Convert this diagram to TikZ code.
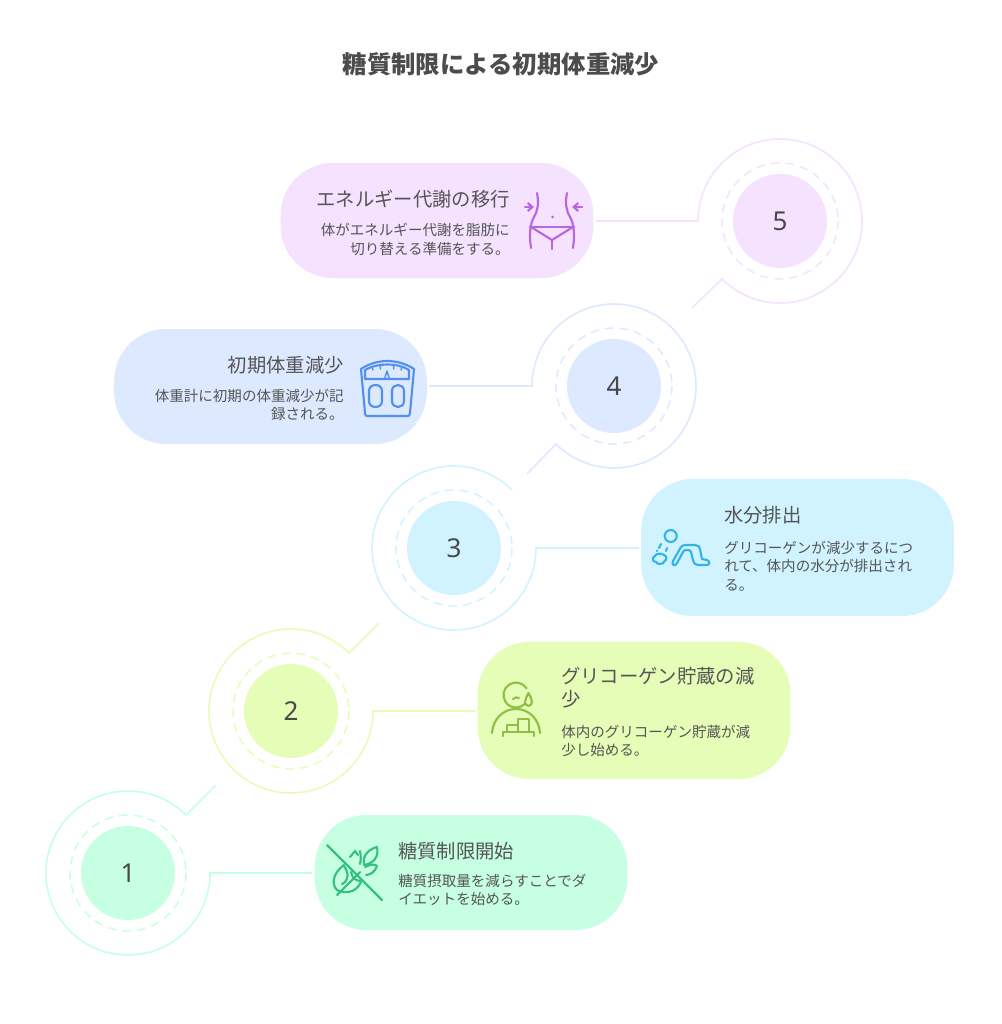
\documentclass[tikz,border=0pt]{standalone}
\usepackage{fontspec}
\setmainfont{Noto Sans CJK JP}
\newfontfamily\numfont{Noto Sans}
\usetikzlibrary{arrows.meta}
\definecolor{cP}{HTML}{F4E2FF}\definecolor{iP}{HTML}{B966E3}
\definecolor{cB}{HTML}{DDE9FF}\definecolor{iB}{HTML}{5390EE}
\definecolor{cC}{HTML}{D1F3FF}\definecolor{iC}{HTML}{33B4E6}
\definecolor{cL}{HTML}{E6FDB8}\definecolor{iL}{HTML}{8FBF45}
\definecolor{cG}{HTML}{C7FFE3}\definecolor{iG}{HTML}{34C17F}
\definecolor{txt}{HTML}{555555}
\tikzset{
 pill/.style={fill=#1,rounded corners=39pt,minimum width=234.5pt,inner sep=0pt,draw=none},
 disc/.style={circle,fill=#1,minimum size=70.5pt,inner sep=0pt,text=txt!85!black,font=\numfont\fontsize{19.5}{20}\selectfont},
 dashring/.style={draw=#1,line width=1.1pt,dash pattern=on 6.5pt off 4.5pt},
 link/.style={draw=#1,line width=1.2pt,line join=miter},
 icon/.style={draw=#1,line width=1.6pt,line cap=round,line join=round},
 head/.style={text=txt,font=\fontsize{14.5}{17.2}\selectfont,inner sep=0pt},
 body/.style={text=txt,font=\fontsize{10.9}{13.8}\selectfont,inner sep=0pt},
 ttl/.style={text=txt!90!black,font=\bfseries\fontsize{18.3}{22}\selectfont,inner sep=0pt},
}
\begin{document}
\begin{tikzpicture}[x=0.75pt,y=-0.75pt]
\useasboundingbox (0,0) rectangle (1001,1024);
\fill[white] (0,0) rectangle (1001,1024);
\node[ttl] (title) at (501,64) {糖質制限による初期体重減少};

% pills
\node[pill=cP,minimum height=86.25pt] (p5) at (437,220.5) {};
\node[pill=cB,minimum height=86.25pt] (p4) at (270.5,386.5) {};
\node[pill=cC,minimum height=103pt] (p3) at (797.5,547.5) {};
\node[pill=cL,minimum height=103pt] (p2) at (634,710.5) {};
\node[pill=cG,minimum height=86.25pt] (p1) at (471,872.5) {};

% discs
\node[disc=cP] (n5) at (780,221) {\raisebox{-0.5pt}{5}};
\node[disc=cB] (n4) at (614,386) {\raisebox{-0.5pt}{4}};
\node[disc=cC] (n3) at (454,548) {\raisebox{-0.5pt}{3}};
\node[disc=cL] (n2) at (291,711) {\raisebox{-0.5pt}{2}};
\node[disc=cG] (n1) at (128,873) {\raisebox{-0.5pt}{1}};
\draw[dashring=cP] (n5) circle[radius=58];
\draw[dashring=cB] (n4) circle[radius=58];
\draw[dashring=cC] (n3) circle[radius=58];
\draw[dashring=cL] (n2) circle[radius=58];
\draw[dashring=cG] (n1) circle[radius=58];

% free ends and arc starts
\coordinate (a5) at (698,221); \coordinate (e5) at (692,308);
\coordinate (a4) at (532,386); \coordinate (e4) at (527,474);
\coordinate (a3) at (536,548);
\coordinate (a2) at (373,711); \coordinate (e2) at (379,623);
\coordinate (a1) at (210,873); \coordinate (e1) at (216,785);

% connectors
\draw[link=cP,shorten <=1.5pt] (p5.east |- a5) -- (a5) arc[start angle=180,end angle=495,radius=82] -- (e5);
\draw[link=cB,shorten <=1.5pt] (p4.east |- a4) -- (a4) arc[start angle=180,end angle=495,radius=82] -- (e4);
\draw[link=cC,shorten <=1.5pt] (p3.west |- a3) -- (a3) arc[start angle=0,end angle=315,radius=82];
\draw[link=cL,shorten <=1.5pt] (p2.west |- a2) -- (a2) arc[start angle=0,end angle=315,radius=82] -- (e2);
\draw[link=cG,shorten <=1.5pt] (p1.west |- a1) -- (a1) arc[start angle=0,end angle=315,radius=82] -- (e1);

% texts
\node[head,anchor=east] (h5) at (510,199) {エネルギー代謝の移行};
\node[body,anchor=east,align=right] (b5) at (510,239.5) {体がエネルギー代謝を脂肪に\\切り替える準備をする。};
\node[head,anchor=east] (h4) at (344,365) {初期体重減少};
\node[body,anchor=east,align=right] (b4) at (344,405) {体重計に初期の体重減少が記\\録される。};
\node[head,anchor=west] (h3) at (724,515) {水分排出};
\node[body,anchor=west,align=left] (b3) at (724,566) {グリコーゲンが減少するにつ\\れて、体内の水分が排出され\\る。};
\node[head,anchor=west,align=left] (h2) at (561,688) {グリコーゲン貯蔵の減\\少};
\node[body,anchor=west,align=left] (b2) at (561,741) {体内のグリコーゲン貯蔵が減\\少し始める。};
\node[head,anchor=west] (h1) at (398,851) {糖質制限開始};
\node[body,anchor=west,align=left] (b1) at (398,890) {糖質摂取量を減らすことでダ\\イエットを始める。};

% icon 5: waist
\begin{scope}[icon=iP]
\draw (537,193) .. controls (539,203) and (538,210) .. (534,217) .. controls (530,224) and (529,234) .. (531,248);
\draw (567,193) .. controls (565,203) and (566,210) .. (570,217) .. controls (574,224) and (575,234) .. (573,248);
\draw (530,227) -- (574,227);
\draw (531,227) -- (552,240) -- (573,227);
\draw (552,240) -- (552,249);
\draw[-{Straight Barb[length=3.5pt,width=6pt]}] (525,207) -- (534,207);
\draw[-{Straight Barb[length=3.5pt,width=6pt]}] (582,207) -- (572,207);
\fill[iP,draw=none] (552.5,217) circle[radius=1.5];
\end{scope}

% icon 4: scale
\begin{scope}[icon=iB]
\draw (361,369) .. controls (370,363) and (380,361) .. (387,361) .. controls (395,361) and (405,363) .. (414,369) -- (410,413) .. controls (410,415) and (409,416) .. (408,416) -- (367,416) .. controls (366,416) and (365,415) .. (365,413) -- cycle;
\draw (365,370) .. controls (372,366) and (380,364.5) .. (387,364.5) .. controls (395,364.5) and (403,366) .. (409,370) -- (409,379) -- (365,379) -- cycle;
\draw[line width=1.1pt] (372,367) -- (373,370); \draw[line width=1.1pt] (380,365) -- (380.5,369); \draw[line width=1.1pt] (394,365) -- (393.5,369); \draw[line width=1.1pt] (402,367) -- (401,370);
\draw[line width=1.1pt] (384.5,379) -- (387,371) -- (389.5,379);
\draw (369,391) .. controls (369,387) and (372,385) .. (375.5,385) .. controls (379,385) and (382,387) .. (382,391) -- (382,401) .. controls (382,405) and (379,407) .. (375.5,407) .. controls (372,407) and (369,405) .. (369,401) -- cycle;
\draw (392,391) .. controls (392,387) and (395,385) .. (398,385) .. controls (401,385) and (404,387) .. (404,391) -- (404,401) .. controls (404,405) and (401,407) .. (398,407) .. controls (395,407) and (392,405) .. (392,401) -- cycle;
\end{scope}

% icon 3: crawling figure
\begin{scope}[icon=iC]
\draw (670.7,536) circle[radius=6];
\draw (673,561) -- (681,547) .. controls (682,545.5) and (684,545) .. (686,545) -- (695,545) .. controls (698,545) and (700,547) .. (700,549) -- (702,559) -- (707,560) .. controls (710,561) and (710,565) .. (707,565) -- (698,565) .. controls (695,565) and (693.5,563) .. (693,560) -- (691,552) .. controls (690.5,550) and (689,550) .. (686,550) .. controls (684,550) and (683.5,551) .. (683,552) -- (677,563) .. controls (675,567) and (671,565) .. (673,561) -- cycle;
\draw (655,556) .. controls (656,553) and (662,553) .. (664,555) .. controls (667,556) and (667,560) .. (664.5,561) .. controls (664,564.5) and (657,565) .. (656,562) .. controls (652,562) and (652,557) .. (655,556) -- cycle;
\draw (659,548) -- (661,544);
\draw (657,551) -- (657.3,550.6);
\draw (666,551) -- (667,548);
\end{scope}

% icon 2: person with tear
\begin{scope}[icon=iL]
\draw (526.6,688.4) arc[start angle=-32,end angle=-315,radius=12.5];
\draw (513,699) .. controls (515,697) and (517,697) .. (519,698);
\draw (528.5,693) .. controls (530,696) and (532,699) .. (532,702) .. controls (532,707) and (525,707) .. (525,702) .. controls (525,699) and (527,696) .. (528.5,693) -- cycle;
\draw (492,733) .. controls (493,719) and (503,709) .. (516,709) .. controls (529,709) and (539,719) .. (540,733);
\draw (503,736) -- (503,732) -- (534,732) -- (534,736);
\draw (507,732) -- (507,725) -- (518,725) -- (518,732);
\draw (518,725) -- (518,719) -- (529,719) -- (529,732);
\end{scope}

% icon 1: crossed leaves
\begin{scope}[icon=iG]
\draw (327,845) -- (382,900);
\draw (337,895) -- (360,872);
\draw (344,865) .. controls (333,873) and (331,884) .. (337,890) .. controls (345,894) and (356,893) .. (361,882);
\draw (344,866) .. controls (349,873) and (349,881) .. (342,884);
\draw (351,872) .. controls (352,878) and (356,881) .. (361,881);
\draw (350,857) -- (355,851) -- (358,855);
\draw (360,851) .. controls (361,856) and (361,860) .. (360,864);
\draw (364,865) .. controls (362,854) and (370,849) .. (377,847) .. controls (379,857) and (374,863) .. (364,865);
\draw (365,867) .. controls (371,864) and (375,864) .. (377,866) .. controls (375,872) and (370,875) .. (366,875);
\end{scope}
\end{tikzpicture}
\end{document}
